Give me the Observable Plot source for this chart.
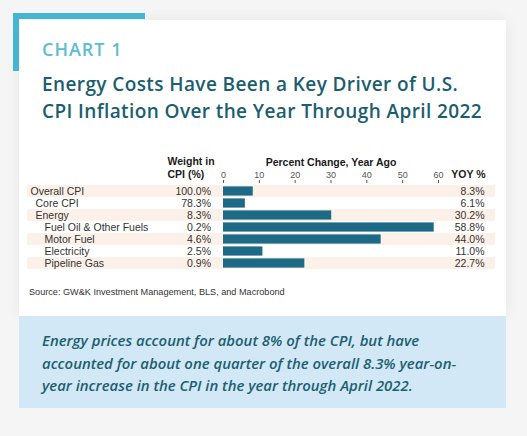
<!DOCTYPE html>
<html>
<head>
<meta charset="utf-8">
<script src="https://cdn.jsdelivr.net/npm/d3@7"></script>
<script src="https://cdn.jsdelivr.net/npm/@observablehq/plot@0.6"></script>
<style>
  html, body { margin: 0; padding: 0; }
  body { width: 527px; height: 436px; background: #f5f5f5; position: relative; overflow: hidden; font-family: "Liberation Sans", Arial, sans-serif; }
  .card { position: absolute; left: 19px; top: 20px; width: 487px; height: 296px; background: #fff; box-shadow: 0 0 14px rgba(0,0,0,0.06); }
  .accent-h { position: absolute; left: 13px; top: 13px; width: 132px; height: 6px; background: #45b6cf; }
  .accent-v { position: absolute; left: 13px; top: 13px; width: 6px; height: 58px; background: #45b6cf; }
  .kicker { position: absolute; left: 42px; top: 37px; font-family: "Open Sans", sans-serif; font-weight: 600; font-size: 18px; letter-spacing: 1px; color: #5bbcd2; line-height: 24px; }
  .title { position: absolute; left: 42px; top: 71px; font-family: "Open Sans", sans-serif; font-weight: 600; font-size: 19px; letter-spacing: 0.4px; line-height: 27px; color: #1b5e6e; white-space: nowrap; }
  #chart { position: absolute; left: 0; top: 140px; }
  .source { position: absolute; left: 29px; top: 287px; font-size: 9.15px; color: #333; white-space: nowrap; }
  .note { position: absolute; left: 19px; top: 316px; width: 487px; height: 92px; background: #d3e8f6; }
  .note-text { position: absolute; left: 42px; top: 329px; font-family: "Open Sans", sans-serif; font-style: italic; font-weight: 600; font-size: 14.9px; line-height: 22.5px; color: #1b6070; white-space: nowrap; }
</style>
</head>
<body>
<div class="card"></div>
<div class="accent-h"></div>
<div class="accent-v"></div>
<div class="kicker">CHART 1</div>
<div class="title">Energy Costs Have Been a Key Driver of U.S.<br>CPI Inflation Over the Year Through April 2022</div>
<div id="chart"></div>
<div class="source">Source: GW&amp;K Investment Management, BLS, and Macrobond</div>
<div class="note"></div>
<div class="note-text">Energy prices account for about 8% of the CPI, but have<br>accounted for about one quarter of the overall 8.3% year-on-<br>year increase in the CPI in the year through April 2022.</div>
<script>
const categories = ["Overall CPI", "Core CPI", "Energy", "Fuel Oil & Other Fuels", "Motor Fuel", "Electricity", "Pipeline Gas"];
const levels = [0, 1, 1, 2, 2, 2, 2];
const weights = [100.0, 78.3, 8.3, 0.2, 4.6, 2.5, 0.9];
const yoy = [8.3, 6.1, 30.2, 58.8, 44.0, 11.0, 22.7];
const xTicks = [0, 10, 20, 30, 40, 50, 60];

const rows = categories.map((c, i) => ({category: c, level: levels[i], weight: weights[i], yoy: yoy[i], striped: i % 2 === 0}));
const indentDx = [-193, -188, -179];
const fs = 10.5;

const plot = Plot.plot({
  width: 527,
  height: 136,
  marginLeft: 223,
  marginRight: 89,
  marginTop: 42,
  marginBottom: 4,
  style: {fontFamily: "Liberation Sans, Arial, sans-serif", background: "transparent", overflow: "visible"},
  x: {domain: [0, 60], axis: null},
  y: {domain: categories, padding: 0, axis: null},
  marks: [
    Plot.cell(rows.filter(d => d.striped), {y: "category", fill: "#fcf1e8", insetLeft: -196, insetRight: -57}),
    Plot.barX(rows, {y: "category", x: "yoy", fill: "#1c6a86", insetTop: 1.4, insetBottom: 1.4}),
    Plot.axisX({anchor: "top", ticks: xTicks, tickSize: 3, tickPadding: 2, fontSize: 9, color: "#555",
      label: "Percent Change, Year Ago", labelAnchor: "center", labelArrow: "none", labelOffset: 24}),
    ...[0, 1, 2].map(k => Plot.text(rows.filter(d => d.level === k), {
      y: "category", text: "category", frameAnchor: "left", textAnchor: "start", dx: indentDx[k],
      fontSize: fs, fill: "#333"})),
    Plot.text(rows, {y: "category", text: d => d.weight.toFixed(1) + "%", frameAnchor: "left", textAnchor: "end", dx: -12.5, fontSize: fs, fill: "#333"}),
    Plot.text(rows, {y: "category", text: d => d.yoy.toFixed(1) + "%", frameAnchor: "right", textAnchor: "end", dx: 46, fontSize: fs, fill: "#333"}),
    Plot.text(["Weight in\nCPI (%)"], {frameAnchor: "top-left", textAnchor: "start", lineAnchor: "bottom", dx: -56, dy: -5, fontSize: fs, fontWeight: "bold", fill: "#1a1a1a", lineHeight: 1.15}),
    Plot.text(["YOY %"], {frameAnchor: "top-right", textAnchor: "end", lineAnchor: "bottom", dx: 47, dy: -5, fontSize: fs, fontWeight: "bold", fill: "#1a1a1a"})
  ]
});
document.getElementById("chart").appendChild(plot);
const lab = plot.querySelector('[aria-label="x-axis label"]');
if (lab) { lab.setAttribute("font-weight", "bold"); lab.setAttribute("font-size", fs); lab.setAttribute("fill", "#1a1a1a"); }
</script>
</body>
</html>
